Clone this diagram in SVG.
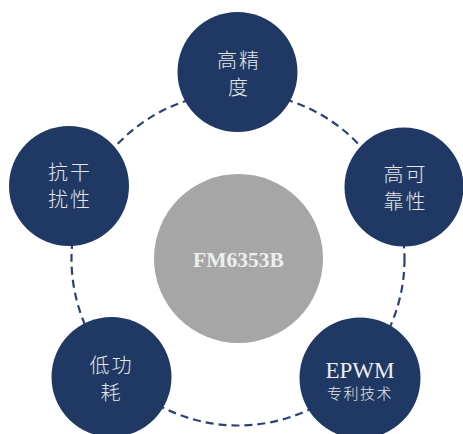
<svg xmlns="http://www.w3.org/2000/svg" width="463" height="434" viewBox="0 0 463 434">
  <style>
    .node { fill: #1f3864; }
    .ring { fill: none; stroke: #2b4272; stroke-width: 2.2; stroke-dasharray: 8 5; }
    .cjk { font-family: "Noto Sans CJK SC", "Noto Sans CJK JP", sans-serif; font-size: 20px; font-weight: 300; fill: #e6e6e6; text-anchor: middle; letter-spacing: 2px; }
    .small { font-size: 15px; letter-spacing: 1.5px; }
    .lat { font-family: "Liberation Serif", serif; fill: #eeeeee; text-anchor: middle; }
  </style>
  <rect width="463" height="434" fill="#ffffff"/>
  <g id="connectors">
    <circle class="ring" cx="238" cy="259" r="166.5"/>
  </g>
  <g id="center">
    <circle cx="238.5" cy="258.5" r="84.5" fill="#a6a6a6"/>
    <text class="lat" x="238.5" y="267" font-size="21.5" font-weight="bold">FM6353B</text>
  </g>
  <g id="node-top">
    <circle class="node" cx="237.5" cy="72" r="60"/>
    <text class="cjk" x="239" y="68">高精</text>
    <text class="cjk" x="239" y="95">度</text>
  </g>
  <g id="node-left">
    <circle class="node" cx="69" cy="186" r="60"/>
    <text class="cjk" x="70" y="180">抗干</text>
    <text class="cjk" x="70" y="207">扰性</text>
  </g>
  <g id="node-right">
    <circle class="node" cx="404" cy="187" r="59.5"/>
    <text class="cjk" x="405.5" y="182">高可</text>
    <text class="cjk" x="405.5" y="209">靠性</text>
  </g>
  <g id="node-bottom-left">
    <circle class="node" cx="111.5" cy="377" r="60"/>
    <text class="cjk" x="111.5" y="373">低功</text>
    <text class="cjk" x="111.5" y="400">耗</text>
  </g>
  <g id="node-bottom-right">
    <circle class="node" cx="360" cy="378" r="60.5"/>
    <text class="lat" x="360" y="378" font-size="23">EPWM</text>
    <text class="cjk small" x="360" y="399">专利技术</text>
  </g>
</svg>
